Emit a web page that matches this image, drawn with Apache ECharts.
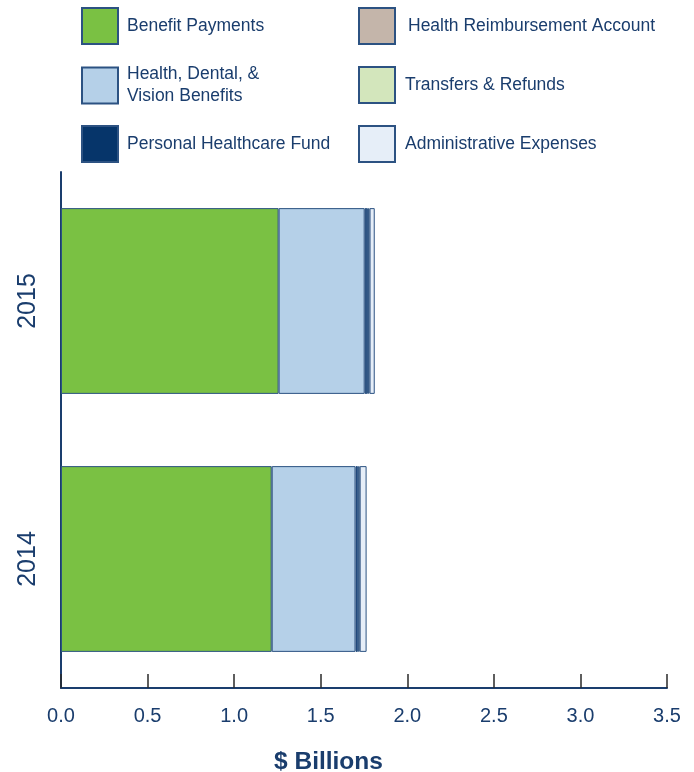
<!DOCTYPE html>
<html>
<head>
<meta charset="utf-8">
<script src="https://cdn.jsdelivr.net/npm/echarts@6/dist/echarts.min.js"></script>
<style>
  html, body { margin: 0; padding: 0; background: #fff; }
  #chart { width: 694px; height: 772px; }
</style>
</head>
<body>
<div id="chart"></div>
<script>
// Fiscal years, bottom to top
const years = ['2014', '2015'];

// Spending by category, $ billions
const benefitPayments    = [1.217, 1.257];
const healthDentalVision = [0.484, 0.497];
const personalHealthcare = [0.012, 0.015];
const healthReimbursement = [0.004, 0.005];
const transfersRefunds   = [0.008, 0.008];
const adminExpenses      = [0.040, 0.030];

const xTicks = { min: 0, max: 3.5, step: 0.5 };

const FONT = 'Liberation Sans, Arial, sans-serif';
const NAVY = '#1a3d6d';
const EDGE = '#2c5282';

const seriesDefs = [
  { name: 'Benefit Payments', data: benefitPayments, color: '#7ac143' },
  { name: 'Health, Dental, & Vision Benefits', data: healthDentalVision, color: '#b5d0e8' },
  { name: 'Personal Healthcare Fund', data: personalHealthcare, color: '#06356a' },
  { name: 'Health Reimbursement Account', data: healthReimbursement, color: '#c4b5aa' },
  { name: 'Transfers & Refunds', data: transfersRefunds, color: '#d3e6bc' },
  { name: 'Administrative Expenses', data: adminExpenses, color: '#e6eef8' }
];

// legend slots: two columns of three
const legendSlots = [
  { left: 81, top: 7, gap: 9 },
  { left: 81, top: 63.5, gap: 9 },
  { left: 81, top: 125, gap: 9 },
  { left: 358, top: 7, gap: 13 },
  { left: 358, top: 66, gap: 10 },
  { left: 358, top: 125, gap: 10 }
];

const legends = seriesDefs.map((s, i) => ({
  data: [s.name],
  left: legendSlots[i].left,
  top: legendSlots[i].top,
  padding: 0,
  itemWidth: 36,
  itemHeight: 36,
  icon: 'rect',
  selectedMode: false,
  textStyle: {
    fontFamily: FONT,
    fontSize: 17.5,
    color: NAVY,
    lineHeight: 22,
    padding: [0, 0, 0, legendSlots[i].gap - 5]
  },
  formatter: n => n === 'Health, Dental, & Vision Benefits' ? 'Health, Dental, &\nVision Benefits' : n
}));

const chart = echarts.init(document.getElementById('chart'));
chart.setOption({
  animation: false,
  backgroundColor: '#fff',
  legend: legends,
  grid: { left: 61, right: 27, top: 172, bottom: 84 },
  xAxis: {
    type: 'value',
    min: xTicks.min,
    max: xTicks.max,
    interval: xTicks.step,
    splitLine: { show: false },
    axisLine: { show: true, lineStyle: { color: NAVY, width: 2 } },
    axisTick: { show: true, inside: true, length: 14, lineStyle: { color: '#2a2a2a', width: 1.5 } },
    axisLabel: {
      margin: 18,
      fontFamily: FONT,
      fontSize: 20,
      color: NAVY,
      formatter: v => v.toFixed(1)
    }
  },
  yAxis: {
    type: 'category',
    data: years,
    axisLine: { show: true, lineStyle: { color: NAVY, width: 2 } },
    axisTick: { show: false },
    axisLabel: {
      rotate: 90,
      margin: 33,
      fontFamily: FONT,
      fontSize: 25,
      color: NAVY,
      verticalAlign: 'middle',
      align: 'center'
    }
  },
  graphic: [{
    type: 'text',
    left: 274,
    top: 750,
    style: {
      text: '$ Billions',
      fontFamily: FONT,
      fontSize: 24.5,
      fontWeight: 'bold',
      fill: NAVY
    }
  }],
  series: seriesDefs.map(s => ({
    name: s.name,
    type: 'bar',
    stack: 'total',
    barWidth: '72%',
    data: s.data,
    itemStyle: { color: s.color, borderColor: EDGE, borderWidth: 1 }
  }))
});
</script>
</body>
</html>
